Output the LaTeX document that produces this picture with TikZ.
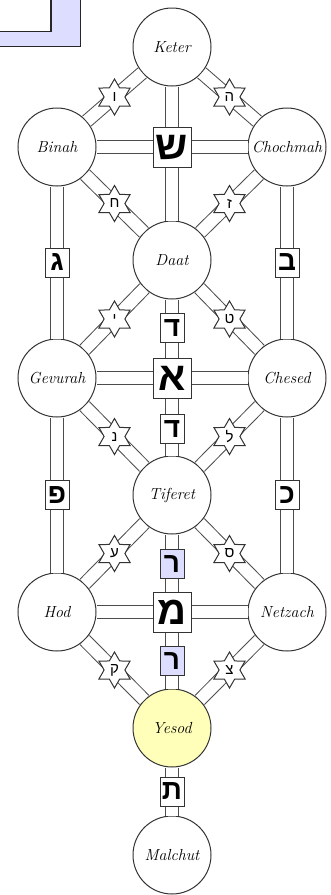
\documentclass[tikz,border=0pt]{standalone}
\usepackage{fontspec}
\newfontfamily\hebfont[Script=Hebrew]{Liberation Sans}
\usetikzlibrary{shapes.geometric,positioning,calc,fadings}

\definecolor{lavender}{RGB}{221,221,255}
\definecolor{paleyellow}{RGB}{255,255,185}

\tikzfading[name=fade ends, top color=transparent!100, middle color=transparent!0, bottom color=transparent!100]

\tikzset{
  sephirah/.style = {circle, draw=black!80, line width=1pt, fill=white, minimum size=78pt, inner sep=0pt,
                     font=\fontsize{16}{16}\selectfont\itshape},
  channel/.style = {draw=black!70, line width=1pt, double=white, double distance=12pt},
  letterbox/.style = {rectangle, draw=black!80, line width=1pt, fill=white, minimum width=24pt,
                      minimum height=29pt, inner sep=0pt, font=\hebfont\bfseries\fontsize{28}{28}\selectfont},
  bigbox/.style = {letterbox, minimum width=38pt, minimum height=40pt,
                   font=\hebfont\bfseries\fontsize{40}{40}\selectfont},
  starbox/.style = {star, star points=6, star point ratio=1.73, draw=black!80, line width=1pt,
                    fill=white, minimum size=36pt, inner sep=0pt, font=\hebfont\fontsize{15}{15}\selectfont},
}

\begin{document}
\begin{tikzpicture}[x=1pt, y=-1pt]
  \useasboundingbox (0,0) rectangle (331,895);

  \shade[left color=black!24, right color=white, path fading=fade ends] (0,95) rectangle (22,715);
  \draw[line width=1.8pt, draw=black!85, fill=lavender] (-5,-5) rectangle (80.5,46.5);
  \draw[line width=1.2pt, draw=black!85, fill=white] (-5,-5) rectangle (51,31.5);

  \node[sephirah] (keter) at (172,47) {Keter};
  \node[sephirah] (binah) at (57,147) {Binah};
  \node[sephirah] (chochmah) at (287,147) {Chochmah};
  \node[sephirah] (daat) at (172,260) {Daat};
  \node[sephirah] (gevurah) at (57,378) {Gevurah};
  \node[sephirah] (chesed) at (287,378) {Chesed};
  \node[sephirah] (tiferet) at (172,495) {Tiferet};
  \node[sephirah] (hod) at (57,612) {Hod};
  \node[sephirah] (netzach) at (287,612) {Netzach};
  \node[sephirah, fill=paleyellow] (yesod) at (172,728) {Yesod};
  \node[sephirah] (malchut) at (172,855) {Malchut};

  \draw[channel] (keter) -- (daat);
  \draw[channel] (binah) -- node[bigbox] {ש} (chochmah);
  \draw[channel] (keter) -- node[starbox] {ו} (binah);
  \draw[channel] (keter) -- node[starbox] {ה} (chochmah);
  \draw[channel] (binah) -- node[starbox] {ח} (daat);
  \draw[channel] (chochmah) -- node[starbox] {ז} (daat);
  \draw[channel] (binah) -- node[letterbox] {ג} (gevurah);
  \draw[channel] (chochmah) -- node[letterbox] {ב} (chesed);
  \draw[channel] (daat) -- node[starbox] {י} (gevurah);
  \draw[channel] (daat) -- node[starbox] {ט} (chesed);
  \draw[channel] (daat) -- node[letterbox, pos=0.18] {ד} node[letterbox, pos=0.83] {ד} (tiferet);
  \draw[channel] (gevurah) -- node[bigbox] {א} (chesed);
  \draw[channel] (gevurah) -- node[starbox] {נ} (tiferet);
  \draw[channel] (chesed) -- node[starbox] {ל} (tiferet);
  \draw[channel] (gevurah) -- node[letterbox] {פ} (hod);
  \draw[channel] (chesed) -- node[letterbox] {כ} (netzach);
  \draw[channel] (tiferet) -- node[starbox] {ע} (hod);
  \draw[channel] (tiferet) -- node[starbox] {ס} (netzach);
  \draw[channel] (tiferet) -- node[letterbox, fill=lavender, pos=0.19] {ר}
                              node[letterbox, fill=lavender, pos=0.82] {ר} (yesod);
  \draw[channel] (hod) -- node[bigbox] {מ} (netzach);
  \draw[channel] (hod) -- node[starbox] {ק} (yesod);
  \draw[channel] (netzach) -- node[starbox] {צ} (yesod);
  \draw[channel] (yesod) -- node[letterbox] {ת} (malchut);
\end{tikzpicture}
\end{document}
